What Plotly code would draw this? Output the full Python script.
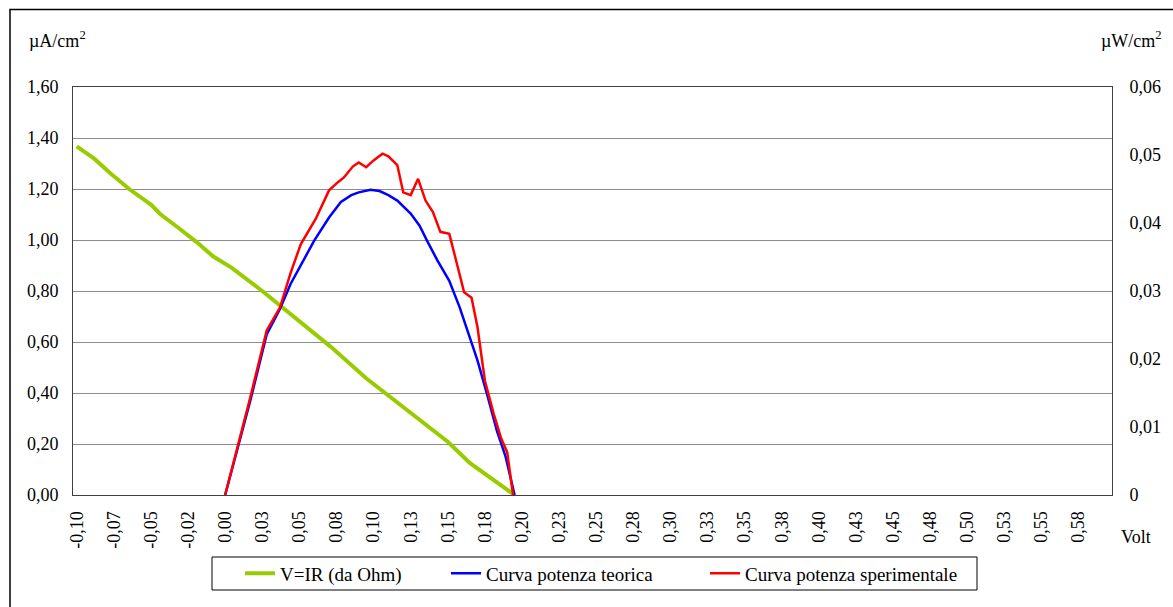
import plotly.graph_objects as go

# Retta di carico V = IR (µA/cm², asse sinistro)
ohm_v = [-0.100, -0.088, -0.077, -0.064, -0.050, -0.044, -0.032, -0.019, -0.008, 0.004,
         0.025, 0.050, 0.071, 0.095, 0.123, 0.150, 0.165, 0.195]
ohm_i = [1.367, 1.318, 1.260, 1.197, 1.139, 1.103, 1.050, 0.991, 0.935, 0.893,
         0.800, 0.680, 0.582, 0.458, 0.333, 0.209, 0.125, 0.000]

# Curva di potenza teorica (µW/cm², asse destro)
teo_v = [0.000, 0.017, 0.028, 0.037, 0.044, 0.051, 0.060, 0.070, 0.078, 0.085, 0.090,
         0.098, 0.104, 0.110, 0.116, 0.125, 0.131, 0.136, 0.143, 0.151, 0.158, 0.164,
         0.170, 0.177, 0.183, 0.189, 0.195]
teo_p = [0.0, 0.0139, 0.0236, 0.0274, 0.0310, 0.0338, 0.0374, 0.0408, 0.0431, 0.0441, 0.0445,
         0.0449, 0.0447, 0.0441, 0.0433, 0.0414, 0.0396, 0.0374, 0.0345, 0.0315, 0.0276, 0.0237,
         0.0198, 0.0144, 0.0095, 0.0056, 0.0]

# Curva di potenza sperimentale (µW/cm², asse destro)
sper_v = [0.000, 0.017, 0.028, 0.037, 0.044, 0.051, 0.061, 0.070, 0.076, 0.080, 0.086,
          0.090, 0.095, 0.100, 0.106, 0.110, 0.116, 0.120, 0.125, 0.130, 0.135, 0.140,
          0.145, 0.151, 0.155, 0.161, 0.166, 0.170, 0.175, 0.181, 0.186, 0.190, 0.194]
sper_p = [0.0, 0.0144, 0.0242, 0.0276, 0.0326, 0.0369, 0.0406, 0.0448, 0.0460, 0.0467, 0.0483,
          0.0489, 0.0482, 0.0492, 0.0502, 0.0498, 0.0485, 0.0445, 0.0441, 0.0465, 0.0433, 0.0416,
          0.0387, 0.0384, 0.0350, 0.0298, 0.0290, 0.0247, 0.0168, 0.0119, 0.0083, 0.0063, 0.0]

x_labels = ["-0,10", "-0,07", "-0,05", "-0,02", "0,00", "0,03", "0,05", "0,08", "0,10",
            "0,13", "0,15", "0,18", "0,20", "0,23", "0,25", "0,28", "0,30", "0,33", "0,35",
            "0,38", "0,40", "0,43", "0,45", "0,48", "0,50", "0,53", "0,55", "0,58"]
left_labels = ["0,00", "0,20", "0,40", "0,60", "0,80", "1,00", "1,20", "1,40", "1,60"]
right_labels = ["0", "0,01", "0,02", "0,03", "0,04", "0,05", "0,06"]

FONT = "Liberation Serif, Times New Roman, serif"
W, H = 1173, 607
ML, MR, MT, MB = 73, 61, 87, 112
PW, PH = W - ML - MR, H - MT - MB


def px_x(px):
    return (px - ML) / PW


def px_y(py):
    return (H - MB - py) / PH


fig = go.Figure()
fig.add_trace(go.Scatter(x=ohm_v, y=ohm_i, mode="lines", name="V=IR (da Ohm)",
                         line=dict(color="#99cc00", width=4), yaxis="y", legend="legend",
                         showlegend=True))
fig.add_trace(go.Scatter(x=teo_v, y=teo_p, mode="lines", name="Curva potenza teorica",
                         line=dict(color="#0000ff", width=2.5), yaxis="y2", legend="legend2",
                         showlegend=True))
fig.add_trace(go.Scatter(x=sper_v, y=sper_p, mode="lines", name="Curva potenza sperimentale",
                         line=dict(color="#ff0000", width=2.5), yaxis="y2", legend="legend3",
                         showlegend=True))

x_ticks = [-0.100 + 0.025 * k for k in range(len(x_labels))]
left_ticks = [0.2 * k for k in range(len(left_labels))]
right_ticks = [0.01 * k for k in range(len(right_labels))]

tick_font = dict(family=FONT, size=18, color="black")
legend_common = dict(orientation="h", yanchor="middle", y=px_y(573.5), xanchor="left",
                     bgcolor="rgba(0,0,0,0)", borderwidth=0, visible=True,
                     font=dict(family=FONT, size=19, color="black"))

fig.update_layout(
    template="none",
    showlegend=True,
    width=W, height=H,
    margin=dict(l=ML, r=MR, t=MT, b=MB, autoexpand=False),
    paper_bgcolor="white", plot_bgcolor="white",
    font=dict(family=FONT, size=18, color="black"),
    xaxis=dict(range=[-0.1025, 0.5975], tickvals=x_ticks, ticktext=x_labels, tickangle=-90,
               showgrid=False, zeroline=False, showline=True, linecolor="#404040", linewidth=1,
               mirror=True, ticks="", ticklabelstandoff=8, tickfont=tick_font, automargin=False),
    yaxis=dict(range=[0, 1.6], tickvals=left_ticks, ticktext=left_labels, showgrid=True,
               gridcolor="#8c8c8c", gridwidth=1, zeroline=False, showline=True,
               linecolor="#404040", linewidth=1, ticks="", ticklabelstandoff=10,
               tickfont=tick_font, automargin=False),
    yaxis2=dict(range=[0, 0.06], tickvals=right_ticks, ticktext=right_labels, overlaying="y",
                side="right", showgrid=False, zeroline=False, showline=True,
                linecolor="#404040", linewidth=1, ticks="", ticklabelstandoff=13,
                tickfont=tick_font, automargin=False),
    legend=dict(x=px_x(240), **legend_common),
    legend2=dict(x=px_x(446), **legend_common),
    legend3=dict(x=px_x(705), **legend_common),
    shapes=[
        # cornice esterna del grafico
        dict(type="rect", xref="paper", yref="paper", x0=px_x(10), x1=px_x(1190),
             y0=px_y(640), y1=px_y(9.5), line=dict(color="black", width=1.5)),
        # riquadro della legenda
        dict(type="rect", xref="paper", yref="paper", x0=px_x(212), x1=px_x(977),
             y0=px_y(590), y1=px_y(557), line=dict(color="black", width=1)),
    ],
    annotations=[
        dict(text="µA/cm<sup>2</sup>", xref="paper", yref="paper", x=px_x(27), y=px_y(40),
             xanchor="left", yanchor="middle", showarrow=False,
             font=dict(family=FONT, size=18, color="black")),
        dict(text="µW/cm<sup>2</sup>", xref="paper", yref="paper", x=px_x(1099), y=px_y(40),
             xanchor="left", yanchor="middle", showarrow=False,
             font=dict(family=FONT, size=18, color="black")),
        dict(text="Volt", xref="paper", yref="paper", x=px_x(1119), y=px_y(537),
             xanchor="left", yanchor="middle", showarrow=False,
             font=dict(family=FONT, size=18, color="black")),
    ],
)

fig.write_html("out.html")
